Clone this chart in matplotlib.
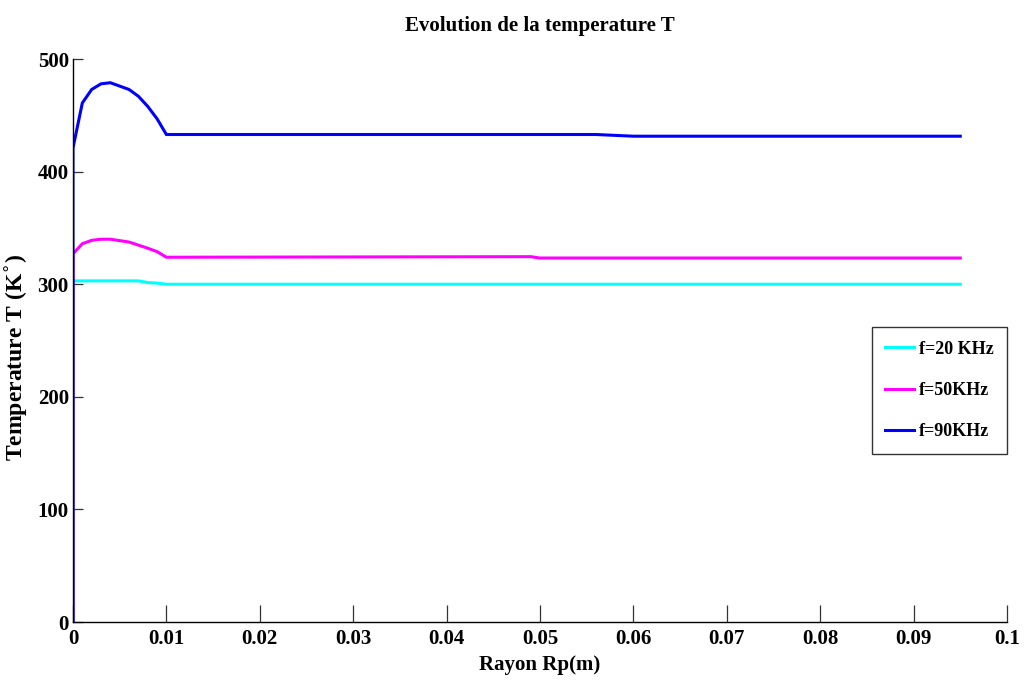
import matplotlib
matplotlib.use("Agg")
import matplotlib.pyplot as plt

# Radius Rp (m) and temperature T (K) for each frequency
r_20k = [0, 0, 0.007, 0.008, 0.009, 0.010, 0.095]
t_20k = [0, 303, 303, 301.5, 301, 300, 300]

r_50k = [0, 0, 0.001, 0.002, 0.003, 0.004, 0.006, 0.008, 0.009, 0.010, 0.049, 0.050, 0.095]
t_50k = [0, 327, 336, 339, 340, 340, 337.5, 332, 329, 324, 324.5, 323.3, 323.3]

r_90k = [0, 0, 0.001, 0.002, 0.003, 0.004, 0.006, 0.007, 0.008, 0.009, 0.010, 0.056, 0.060, 0.095]
t_90k = [0, 421, 461, 473, 478, 479, 473, 467, 458, 447, 433, 433, 431.5, 431.5]

series_labels = ["f=20 KHz", "f=50KHz", "f=90KHz"]
series_colors = ["#00FFFF", "#FF00FF", "#0000FF"]

x_ticks = [0, 0.01, 0.02, 0.03, 0.04, 0.05, 0.06, 0.07, 0.08, 0.09, 0.1]
x_tick_labels = ["0", "0.01", "0.02", "0.03", "0.04", "0.05", "0.06", "0.07", "0.08", "0.09", "0.1"]
y_ticks = [0, 100, 200, 300, 400, 500]
y_tick_labels = ["0", "100", "200", "300", "400", "500"]

serif = "Liberation Serif"

fig = plt.figure(figsize=(10.25, 6.95), dpi=100)
ax = fig.add_axes([0.0712, 0.105, 0.9112, 0.810])

for r, t, lab, col in zip([r_20k, r_50k, r_90k], [t_20k, t_50k, t_90k],
                          series_labels, series_colors):
    ax.plot(r, t, color=col, linewidth=2.2, label=lab, solid_joinstyle="miter")

ax.set_xlim(0, 0.1)
ax.set_ylim(0, 500)
ax.set_xticks(x_ticks)
ax.set_xticklabels(x_tick_labels)
ax.set_yticks(y_ticks)
ax.set_yticklabels(y_tick_labels)

for lbl in ax.get_xticklabels() + ax.get_yticklabels():
    lbl.set_fontfamily(serif)
    lbl.set_fontweight("bold")
    lbl.set_fontsize(15)

ax.tick_params(axis="x", direction="in", length=12, width=0.9, color="#333333", pad=5)
ax.tick_params(axis="y", direction="in", length=7, width=0.9, color="#333333", pad=3)

for side in ("top", "right"):
    ax.spines[side].set_visible(False)
for side in ("left", "bottom"):
    ax.spines[side].set_linewidth(1.0)
    ax.spines[side].set_color("black")

ax.set_title("Evolution de la temperature T", fontfamily=serif, fontweight="bold",
             fontsize=15, pad=20)
ax.set_xlabel("Rayon Rp(m)", fontfamily=serif, fontweight="bold", fontsize=15, labelpad=4)
ax.set_ylabel(r"Temperature T (K$^{\circ}$)", fontfamily=serif, fontweight="bold",
              fontsize=17)
ax.yaxis.set_label_coords(-0.046, 0.47)

leg = ax.legend(loc="upper right", bbox_to_anchor=(1.0, 0.524),
                prop={"family": serif, "weight": "bold", "size": 13},
                frameon=True, fancybox=False, handlelength=1.6,
                borderpad=0.75, labelspacing=1.35, handletextpad=0.25, borderaxespad=0)
leg.get_frame().set_edgecolor("black")
leg.get_frame().set_linewidth(1.0)

fig.savefig("out.png", dpi=100, facecolor="white")
